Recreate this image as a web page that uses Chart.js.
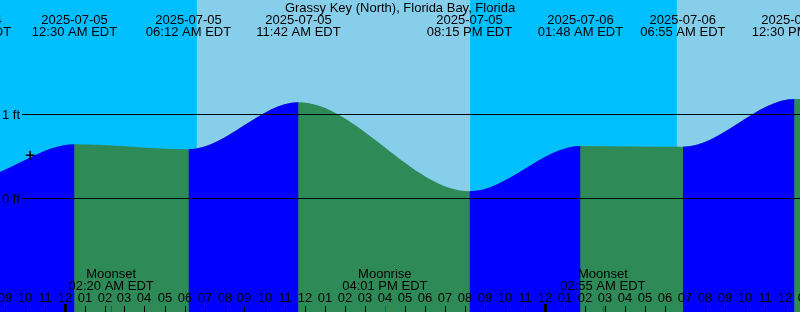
<!DOCTYPE html>
<html>
<head>
<meta charset="utf-8">
<script src="https://cdn.jsdelivr.net/npm/chart.js@4"></script>
<style>
  html, body { margin: 0; padding: 0; background: #00bfff; }
  #wrap { width: 800px; height: 312px; }
</style>
</head>
<body>
<div id="wrap"><canvas id="tide" width="800" height="312"></canvas></div>
<script>
// station name shown on top
const stationName = 'Grassy Key (North), Florida Bay, Florida';

// high / low tides (first and last ones are just outside the picture)
const tideTimes = ['2025-07-04 12:50', '2025-07-04 19:12', '2025-07-05 00:30', '2025-07-05 06:12',
  '2025-07-05 11:42', '2025-07-05 20:15', '2025-07-06 01:48', '2025-07-06 06:55',
  '2025-07-06 12:30', '2025-07-06 21:00'];
const tideLevels = [0.95, 0.22, 0.64, 0.58, 1.14, 0.08, 0.62, 0.61, 1.18, 0.05]; // ft

// daylight periods
const sunriseTimes = ['2025-07-05 06:37', '2025-07-06 06:37'];
const sunsetTimes = ['2025-07-05 20:17', '2025-07-06 20:17'];

// moon events
const moonNames = ['Moonset', 'Moonrise', 'Moonset'];
const moonTimes = ['2025-07-05 02:20', '2025-07-05 16:01', '2025-07-06 02:55'];

// level lines
const levelTicks = [0, 1];
const levelLabels = ['0 ft', '1 ft'];

// small "+" mark
const markTime = '2025-07-04 22:17';
const markLevel = 0.51;

const NIGHT = '#00bfff';
const DAY = '#87ceeb';
const RISE = '#0000ff';
const FALL = '#2e8b57';
const FONT = '13px "Liberation Sans", Arial, sans-serif';

// hours since 2025-07-05 00:00
function hrs(s) {
  const [d, t] = s.split(' ');
  const [Y, M, D] = d.split('-').map(Number);
  const [h, m] = t.split(':').map(Number);
  return (Date.UTC(Y, M - 1, D, h, m) - Date.UTC(2025, 6, 5)) / 3600000;
}

function clock(s) {
  let [h, m] = s.split(' ')[1].split(':').map(Number);
  const ap = h < 12 ? 'AM' : 'PM';
  h = h % 12 || 12;
  return String(h).padStart(2, '0') + ':' + String(m).padStart(2, '0') + ' ' + ap + ' EDT';
}

const tidePoints = () => tideTimes.map((t, i) => ({x: hrs(t), y: tideLevels[i]}));

const decor = {
  id: 'decor',
  beforeDraw(chart) {
    const {ctx, chartArea: a, scales: {x}} = chart;
    ctx.save();
    ctx.fillStyle = NIGHT;
    ctx.fillRect(a.left, a.top, a.width, a.height);
    ctx.fillStyle = DAY;
    for (let i = 0; i < sunriseTimes.length; i++) {
      const x0 = x.getPixelForValue(hrs(sunriseTimes[i]));
      const x1 = x.getPixelForValue(hrs(sunsetTimes[i]));
      ctx.fillRect(x0, a.top, x1 - x0, a.height);
    }
    ctx.restore();
  },
  afterDatasetsDraw(chart) {
    const {ctx, chartArea: a, scales: {x, y}} = chart;
    ctx.save();
    ctx.font = FONT;
    ctx.fillStyle = '#000';
    ctx.strokeStyle = '#000';
    ctx.lineWidth = 1;

    // level lines
    levelTicks.forEach((v, i) => {
      const py = Math.round(y.getPixelForValue(v)) + 0.5;
      ctx.beginPath();
      ctx.moveTo(22, py);
      ctx.lineTo(a.right, py);
      ctx.stroke();
      ctx.textAlign = 'right';
      ctx.fillText(levelLabels[i], 20, py + 4.5);
    });

    // title
    ctx.textAlign = 'center';
    ctx.fillText(stationName, (a.left + a.right) / 2, 12);

    // tide labels
    tideTimes.forEach(t => {
      const px = x.getPixelForValue(hrs(t));
      ctx.fillText(t.split(' ')[0], px, 24);
      ctx.fillText(clock(t), px, 36);
    });

    // moon labels
    moonTimes.forEach((t, i) => {
      const px = x.getPixelForValue(hrs(t));
      ctx.fillText(moonNames[i], px, 278);
      ctx.fillText(clock(t), px, 290);
    });

    // hour ticks
    for (let h = Math.ceil(x.min); h <= Math.floor(x.max) + 1; h++) {
      const px = Math.round(x.getPixelForValue(h));
      const hh = ((h % 24) + 24) % 24;
      const lab = String(hh % 12 || 12).padStart(2, '0');
      ctx.fillText(lab, px, 302);
      if (hh === 0) {
        ctx.fillRect(px - 1, 304, 3, a.bottom - 304);
      } else {
        ctx.fillRect(px, 306, 1, a.bottom - 306);
      }
    }
    ctx.fillStyle = '#ff0000';
    moonTimes.forEach(t => {
      const px = Math.round(x.getPixelForValue(hrs(t)));
      ctx.fillRect(px, 306, 1, a.bottom - 306);
    });
    ctx.restore();
  }
};

new Chart(document.getElementById('tide'), {
  type: 'line',
  data: {
    datasets: [{
      type: 'scatter',
      data: [{x: hrs(markTime), y: markLevel}],
      pointStyle: 'cross',
      pointRadius: 4.5,
      borderColor: '#000',
      backgroundColor: '#000',
      borderWidth: 1.5,
      order: 0
    }, {
      // rising parts on top of the falling fill
      data: tidePoints(),
      cubicInterpolationMode: 'monotone',
      pointRadius: 0,
      borderWidth: 0,
      borderColor: 'rgba(0,0,0,0)',
      backgroundColor: RISE,
      fill: 'start',
      segment: {
        backgroundColor: c => c.p1.parsed.y >= c.p0.parsed.y ? RISE : 'rgba(0,0,0,0)'
      },
      order: 1
    }, {
      data: tidePoints(),
      cubicInterpolationMode: 'monotone',
      pointRadius: 0,
      borderWidth: 0,
      borderColor: 'rgba(0,0,0,0)',
      backgroundColor: FALL,
      fill: 'start',
      order: 2
    }]
  },
  options: {
    responsive: false,
    animation: false,
    devicePixelRatio: 1,
    layout: {padding: 0, autoPadding: false},
    events: [],
    plugins: {legend: {display: false}, tooltip: {enabled: false}},
    scales: {
      x: {type: 'linear', display: false, min: -3.225, max: 36.775},
      y: {type: 'linear', display: false, min: -114 / 84, max: 198 / 84}
    }
  },
  plugins: [decor]
});
</script>
</body>
</html>
